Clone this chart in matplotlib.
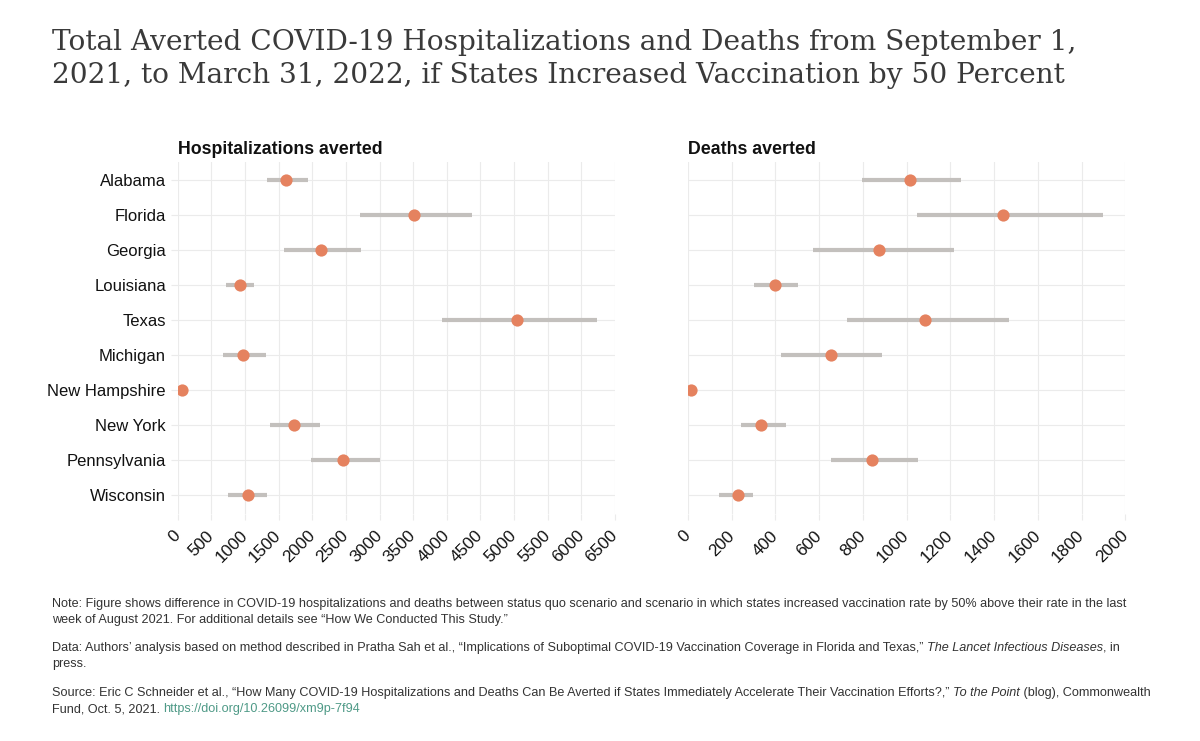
import numpy as np
import matplotlib.pyplot as plt
from matplotlib.transforms import ScaledTranslation

states = ['Alabama', 'Florida', 'Georgia', 'Louisiana', 'Texas', 'Michigan',
          'New Hampshire', 'New York', 'Pennsylvania', 'Wisconsin']

hosp_mid = [1610, 3515, 2134, 926, 5049, 975, 65, 1723, 2461, 1040]
hosp_low = [1327, 2713, 1574, 718, 3926, 678, 55, 1366, 1985, 753]
hosp_high = [1936, 4372, 2723, 1139, 6237, 1317, 75, 2114, 3010, 1322]

death_mid = [1015, 1442, 875, 399, 1082, 654, 14, 334, 841, 229]
death_low = [796, 1046, 570, 302, 726, 425, 11, 241, 652, 143]
death_high = [1248, 1899, 1215, 504, 1467, 889, 17, 448, 1050, 299]

hosp_ticks = np.arange(0, 6501, 500)
death_ticks = np.arange(0, 2001, 200)

title_lines = ['Total Averted COVID-19 Hospitalizations and Deaths from September 1,',
               '2021, to March 31, 2022, if States Increased Vaccination by 50 Percent']

W, H = 1200, 741
DOT = '#e5825f'
BAR = '#c3c0bd'
GRID = '#ebebeb'
SANS = 'Liberation Sans'

fig = plt.figure(figsize=(W / 100, H / 100), dpi=100)
fig.patch.set_facecolor('white')


def px(x, y):
    return x / W, 1 - y / H


def panel(left, lo, mid, hi, ticks, name, show_states):
    ax = fig.add_axes([left / W, 1 - 514 / H, 437.3 / W, 352 / H])
    y = np.arange(len(states))
    ax.hlines(y, lo, hi, color=BAR, lw=3, zorder=2)
    ax.plot(mid, y, 'o', color=DOT, ms=8.8, mec='none', zorder=3)
    ax.set_xlim(ticks[0], ticks[-1])
    ax.set_ylim(9 + 19 / 35, -18 / 35)
    ax.set_xticks(ticks)
    ax.set_yticks(y)
    ax.grid(True, color=GRID, lw=0.8, zorder=0)
    ax.set_axisbelow(True)
    for s in ax.spines.values():
        s.set_visible(False)
    ax.tick_params(axis='x', length=4, color=GRID, pad=6)
    ax.tick_params(axis='y', length=5, color=GRID, pad=3.5)
    ax.set_xticklabels([str(t) for t in ticks], rotation=45, ha='right', va='top',
                       fontsize=12.3, family=SANS, color='#111111')
    shift = ScaledTranslation(4 / 72, 0, fig.dpi_scale_trans)
    for lab in ax.get_xticklabels():
        lab.set_transform(lab.get_transform() + shift)
    if show_states:
        ax.set_yticklabels(states, fontsize=12, family=SANS, color='#111111')
    else:
        ax.set_yticklabels([])
        ax.tick_params(axis='y', length=0)
    fig.text(*px(left, 154), name, fontsize=12.8, fontweight='bold',
             family=SANS, color='#111111', va='baseline')
    return ax


panel(177.7, hosp_low, hosp_mid, hosp_high, hosp_ticks, 'Hospitalizations averted', True)
panel(688, death_low, death_mid, death_high, death_ticks, 'Deaths averted', False)

fig.text(*px(52, 50), title_lines[0], fontsize=20.2, family='DejaVu Serif',
         color='#3a3a3a', va='baseline')
fig.text(*px(52, 83), title_lines[1], fontsize=20.2, family='DejaVu Serif',
         color='#3a3a3a', va='baseline')

# footnotes, with italic runs placed one after another
renderer = fig.canvas.get_renderer()


def runs(y, parts):
    x = 52
    for txt, style, col in parts:
        t = fig.text(*px(x, y), txt, fontsize=9.1, family=SANS, style=style,
                     color=col, va='baseline')
        bb = t.get_window_extent(renderer)
        x += bb.width


TXT = '#333333'
runs(607, [('Note: Figure shows difference in COVID-19 hospitalizations and deaths between status quo scenario '
            'and scenario in which states increased vaccination rate by 50% above their rate in the last', 'normal', TXT)])
runs(623, [('week of August 2021. For additional details see \u201cHow We Conducted This Study.\u201d', 'normal', TXT)])
runs(651, [('Data: Authors\u2019 analysis based on method described in Pratha Sah et al., \u201cImplications of '
            'Suboptimal COVID-19 Vaccination Coverage in Florida and Texas,\u201d ', 'normal', TXT),
           ('The Lancet Infectious Diseases', 'italic', TXT),
           (', in', 'normal', TXT)])
runs(667, [('press.', 'normal', TXT)])
runs(696, [('Source: Eric C Schneider et al., \u201cHow Many COVID-19 Hospitalizations and Deaths Can Be Averted '
            'if States Immediately Accelerate Their Vaccination Efforts?,\u201d ', 'normal', TXT),
           ('To the Point', 'italic', TXT),
           (' (blog), Commonwealth', 'normal', TXT)])
runs(712, [('Fund, Oct. 5, 2021. ', 'normal', TXT),
           ('https://doi.org/10.26099/xm9p-7f94', 'normal', '#4f9a87')])

fig.savefig('out.png', dpi=100)
